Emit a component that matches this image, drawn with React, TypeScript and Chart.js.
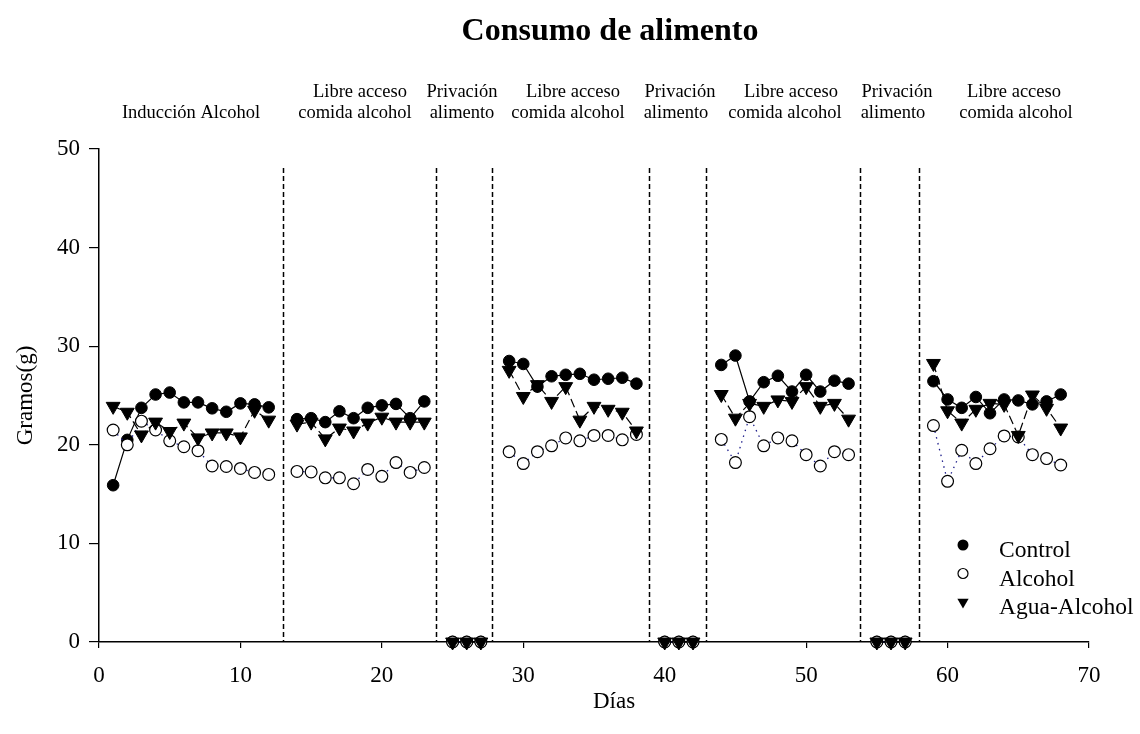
import React, { useEffect, useRef } from "react";
import { Chart, registerables } from "chart.js";

Chart.register(...registerables);

const SERIF = "'Liberation Serif', 'Times New Roman', Times, serif";

// Experiment days (phases separated by gaps in the sequence)
const days = [
  1, 2, 3, 4, 5, 6, 7, 8, 9, 10, 11, 12,
  14, 15, 16, 17, 18, 19, 20, 21, 22, 23,
  25, 26, 27,
  29, 30, 31, 32, 33, 34, 35, 36, 37, 38,
  40, 41, 42,
  44, 45, 46, 47, 48, 49, 50, 51, 52, 53,
  55, 56, 57,
  59, 60, 61, 62, 63, 64, 65, 66, 67, 68,
];

// Food intake (g) per group, aligned with `days`
const control = [
  15.9, 20.5, 23.75, 25.1, 25.3, 24.3, 24.3, 23.7, 23.35, 24.2, 24.1, 23.8,
  22.6, 22.7, 22.3, 23.4, 22.7, 23.75, 24.0, 24.15, 22.7, 24.4,
  0, 0, 0,
  28.5, 28.2, 25.9, 26.95, 27.1, 27.2, 26.6, 26.7, 26.8, 26.2,
  0, 0, 0,
  28.1, 29.05, 24.4, 26.35, 27.0, 25.4, 27.1, 25.4, 26.5, 26.2,
  0, 0, 0,
  26.45, 24.6, 23.75, 24.85, 23.2, 24.6, 24.5, 24.1, 24.4, 25.1,
];

const alcohol = [
  21.5, 20.0, 22.4, 21.5, 20.4, 19.8, 19.4, 17.85, 17.8, 17.6, 17.2, 17.0,
  17.3, 17.25, 16.65, 16.65, 16.05, 17.5, 16.8, 18.2, 17.2, 17.7,
  0, 0, 0,
  19.3, 18.1, 19.3, 19.9, 20.7, 20.4, 20.95, 20.95, 20.5, 21.05,
  0, 0, 0,
  20.55, 18.2, 22.85, 19.9, 20.7, 20.4, 19.0, 17.85, 19.3, 19.0,
  0, 0, 0,
  21.95, 16.3, 19.45, 18.1, 19.6, 20.9, 20.8, 19.0, 18.6, 17.95,
];

const aguaAlcohol = [
  23.9, 23.3, 21.0, 22.3, 21.35, 22.2, 20.7, 21.2, 21.2, 20.8, 23.5, 22.5,
  22.1, 22.3, 20.6, 21.7, 21.4, 22.2, 22.8, 22.3, 22.3, 22.3,
  0, 0, 0,
  27.55, 24.9, 26.1, 24.4, 25.9, 22.5, 23.9, 23.6, 23.3, 21.4,
  0, 0, 0,
  25.1, 22.7, 24.2, 23.9, 24.55, 24.4, 25.9, 23.9, 24.2, 22.6,
  0, 0, 0,
  28.25, 23.45, 22.2, 23.6, 24.2, 24.1, 20.95, 25.05, 23.7, 21.7,
];

// Phase boundaries (day) drawn as dashed vertical lines
const phaseBoundaries = [13, 23.85, 27.8, 38.9, 42.9, 53.8, 58];

// Phase captions: [line 1, line 2]
const phaseCaptions: [string, string][] = [
  ["", "Inducción Alcohol"],
  ["Libre acceso", "comida alcohol"],
  ["Privación", "alimento"],
  ["Libre acceso", "comida alcohol"],
  ["Privación", "alimento"],
  ["Libre acceso", "comida alcohol"],
  ["Privación", "alimento"],
  ["Libre acceso", "comida alcohol"],
];
// Horizontal centres (px) of each caption line
const captionCentres: [number, number][] = [
  [191, 191],
  [360, 355],
  [462, 462],
  [573, 568],
  [680, 676],
  [791, 785],
  [897, 893],
  [1014, 1016],
];

const xTicks = [0, 10, 20, 30, 40, 50, 60, 70];
const yTicks = [0, 10, 20, 30, 40, 50];

const seriesNames = ["Control", "Alcohol", "Agua-Alcohol"];

function toPoints(values: number[]) {
  const pts: { x: number; y: number | null }[] = [];
  days.forEach((d, i) => {
    if (i > 0 && d - days[i - 1] > 1) pts.push({ x: d - 1, y: null });
    pts.push({ x: d, y: values[i] });
  });
  return pts;
}

const decorations = {
  id: "decorations",
  beforeDatasetsDraw(chart: any) {
    const { ctx, scales, chartArea } = chart;
    const x = scales.x;
    ctx.save();
    ctx.strokeStyle = "#000";
    ctx.lineWidth = 1.5;
    ctx.setLineDash([5, 3]);
    phaseBoundaries.forEach((b) => {
      const px = Math.round(x.getPixelForValue(b)) + 0.5;
      ctx.beginPath();
      ctx.moveTo(px, 168);
      ctx.lineTo(px, chartArea.bottom);
      ctx.stroke();
    });
    ctx.restore();
  },
  afterDraw(chart: any) {
    const { ctx, chartArea } = chart;
    ctx.save();
    ctx.fillStyle = "#000";

    // Title
    ctx.font = `bold 32px ${SERIF}`;
    ctx.textAlign = "center";
    ctx.textBaseline = "alphabetic";
    ctx.fillText("Consumo de alimento", 610, 40);

    // Phase captions
    ctx.font = `18.5px ${SERIF}`;
    phaseCaptions.forEach((cap, i) => {
      const [c1, c2] = captionCentres[i];
      if (cap[0]) ctx.fillText(cap[0], c1, 97);
      ctx.fillText(cap[1], c2, 118);
    });

    // Axis titles
    ctx.font = `23px ${SERIF}`;
    ctx.fillText("Días", 614, 708);
    ctx.save();
    ctx.translate(32, (chartArea.top + chartArea.bottom) / 2);
    ctx.rotate(-Math.PI / 2);
    ctx.fillText("Gramos(g)", 0, 0);
    ctx.restore();

    // Legend
    const mx = 963;
    const rows = [545, 573.5, 602];
    const base = [557, 585.5, 614];
    ctx.font = `23.5px ${SERIF}`;
    ctx.textAlign = "left";
    seriesNames.forEach((name, i) => {
      ctx.fillText(name, 999, base[i]);
    });
    ctx.lineWidth = 1.2;
    ctx.strokeStyle = "#000";
    ctx.beginPath();
    ctx.arc(mx, rows[0], 5.5, 0, Math.PI * 2);
    ctx.fill();
    ctx.beginPath();
    ctx.arc(mx, rows[1], 5, 0, Math.PI * 2);
    ctx.fillStyle = "#fff";
    ctx.fill();
    ctx.stroke();
    ctx.fillStyle = "#000";
    const r = 6.5;
    ctx.beginPath();
    ctx.moveTo(mx - r * 0.866, rows[2] - r / 2);
    ctx.lineTo(mx + r * 0.866, rows[2] - r / 2);
    ctx.lineTo(mx, rows[2] + r);
    ctx.closePath();
    ctx.fill();
    ctx.restore();
  },
};

export default function App() {
  const ref = useRef<HTMLCanvasElement | null>(null);

  useEffect(() => {
    if (!ref.current) return;
    const axisGrid = (len: number) => ({
      display: true,
      drawOnChartArea: false,
      drawTicks: true,
      tickLength: len,
      color: "#000",
      lineWidth: 1.2,
    });
    const chart = new Chart(ref.current, {
      type: "line",
      data: {
        datasets: [
          {
            label: seriesNames[2],
            data: toPoints(aguaAlcohol),
            borderColor: "#000",
            borderWidth: 1.2,
            borderDash: [9, 4],
            pointStyle: "triangle",
            rotation: 180,
            pointRadius: 8,
            pointBackgroundColor: "#000",
            pointBorderColor: "#000",
            pointBorderWidth: 1,
            spanGaps: false,
            clip: false,
            order: 0,
          } as any,
          {
            label: seriesNames[1],
            data: toPoints(alcohol),
            borderColor: "#1c1c8a",
            borderWidth: 1.3,
            borderDash: [1.5, 4.5],
            pointStyle: "circle",
            pointRadius: 5.9,
            pointBackgroundColor: "#fff",
            pointBorderColor: "#000",
            pointBorderWidth: 1.2,
            spanGaps: false,
            clip: false,
            order: 1,
          } as any,
          {
            label: seriesNames[0],
            data: toPoints(control),
            borderColor: "#000",
            borderWidth: 1.2,
            pointStyle: "circle",
            pointRadius: 5.8,
            pointBackgroundColor: "#000",
            pointBorderColor: "#000",
            pointBorderWidth: 1,
            spanGaps: false,
            clip: false,
            order: 2,
          } as any,
        ],
      },
      options: {
        responsive: false,
        animation: false,
        events: [],
        layout: { padding: { top: 149, right: 51, left: 0, bottom: 0 } },
        plugins: {
          legend: { display: false },
          title: { display: false },
          tooltip: { enabled: false },
        },
        scales: {
          x: {
            type: "linear",
            min: 0,
            max: 70,
            afterFit: (s: any) => {
              s.height = 92;
            },
            afterBuildTicks: (s: any) => {
              s.ticks = xTicks.map((v) => ({ value: v }));
            },
            ticks: {
              color: "#000",
              font: { family: SERIF, size: 23 },
              padding: 14,
              maxRotation: 0,
              autoSkip: false,
            },
            grid: axisGrid(6),
            border: { display: true, color: "#000", width: 1.5 },
          },
          y: {
            type: "linear",
            min: 0,
            max: 50,
            afterFit: (s: any) => {
              s.width = 99;
            },
            afterBuildTicks: (s: any) => {
              s.ticks = yTicks.map((v) => ({ value: v }));
            },
            ticks: {
              color: "#000",
              font: { family: SERIF, size: 23 },
              padding: 9,
              autoSkip: false,
            },
            grid: axisGrid(10),
            border: { display: true, color: "#000", width: 1.5 },
          },
        },
      } as any,
      plugins: [decorations],
    });
    return () => chart.destroy();
  }, []);

  return (
    <canvas
      ref={ref}
      width={1140}
      height={734}
      style={{ position: "fixed", left: 0, top: 0, display: "block", background: "#fff" }}
    />
  );
}
